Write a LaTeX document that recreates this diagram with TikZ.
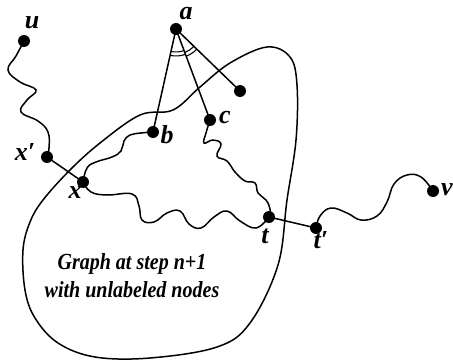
\documentclass[tikz,border=0pt]{standalone}
\usepackage{fontspec}
\setmainfont{Liberation Serif}
\begin{document}
\begin{tikzpicture}[x=1pt,y=-1pt,line width=1.5pt,
  dot/.style={circle,fill=black,inner sep=0pt,minimum size=12pt},
  lab/.style={font=\fontsize{26}{28}\selectfont\bfseries\itshape,inner sep=0pt},
  wave/.style={smooth,tension=0.7}]
\useasboundingbox (0,0) rectangle (453,364);
% blob
\draw plot[smooth cycle,tension=0.6] coordinates {(43,200) (70,170) (100,143) (140,115) (173,110) (200,87) (230,63) (267,47) (290,57) (297,85) (296,140) (287,200) (278,265) (250,323) (217,347) (150,358) (95,357) (58,343) (35,318) (25,290) (23,250) (30,222)};
% nodes
\node[dot] (u) at (24,41) {};
\node[dot] (a) at (176,29) {};
\node[dot] (b) at (153,132) {};
\node[dot] (c) at (210,120) {};
\node[dot] (d) at (240,91) {};
\node[dot] (xp) at (47,157) {};
\node[dot] (x) at (83,182) {};
\node[dot] (t) at (269,217) {};
\node[dot] (tp) at (316,228) {};
\node[dot] (v) at (433,191) {};
% labels
\node[lab] (lu) at (32,23) {u};
\node[lab] (la) at (186,14) {a};
\node[lab] (lb) at (167,135) {b};
\node[lab] (lc) at (225,118) {c};
\node[lab] (lxp) at (25,152) {x′};
\node[lab] (lx) at (75,193) {x};
\node[lab] (lt) at (265,236) {t};
\node[lab] (ltp) at (321,240) {t′};
\node[lab] (lv) at (447,190) {v};
\node[font=\fontsize{23}{28}\selectfont\bfseries\itshape,align=center,xscale=0.87,transform shape] (txt) at (132,276) {Graph at step n+1\\with unlabeled nodes};
% straight edges
\draw (a.center) -- (b.center);
\draw (a.center) -- (c.center);
\draw (a.center) -- (d.center);
\draw (xp.center) -- (x.center);
\draw (t.center) -- (tp.center);
% angle marks
\draw[line width=1.1pt] (a.center) ++(102.7:23) arc[start angle=102.7,end angle=69.5,radius=23];
\draw[line width=1.1pt] (a.center) ++(102.7:27) arc[start angle=102.7,end angle=69.5,radius=27];
\draw[line width=1.1pt] (a.center) ++(69.5:25) arc[start angle=69.5,end angle=44.1,radius=25];
\draw[line width=1.1pt] (a.center) ++(69.5:29) arc[start angle=69.5,end angle=44.1,radius=29];
% wavy edges
\draw plot[wave] coordinates {(u.center) (16,56) (8,70) (20,82) (36,90) (27,100) (21,112) (38,121) (48,132) (49,148) (xp.center)};
\draw plot[wave] coordinates {(x.center) (87,168) (96,162) (112,157) (121,151) (124,141) (130,135) (141,133) (b.center)};
\draw plot[wave] coordinates {(x.center) (91,192) (107,195) (132,194) (139,206) (142,220) (154,222) (167,213) (180,211) (189,224) (201,228) (214,217) (227,211) (240,221) (256,228) (t.center)};
\draw plot[wave] coordinates {(c.center) (206,133) (204,143) (213,140) (221,144) (217,156) (227,161) (235,172) (245,181) (255,183) (258,193) (266,200) (270,209) (t.center)};
\draw plot[wave] coordinates {(tp.center) (320,216) (331,208) (347,213) (361,220) (377,216) (387,202) (394,184) (407,175) (421,177) (v.center)};
\end{tikzpicture}
\end{document}
